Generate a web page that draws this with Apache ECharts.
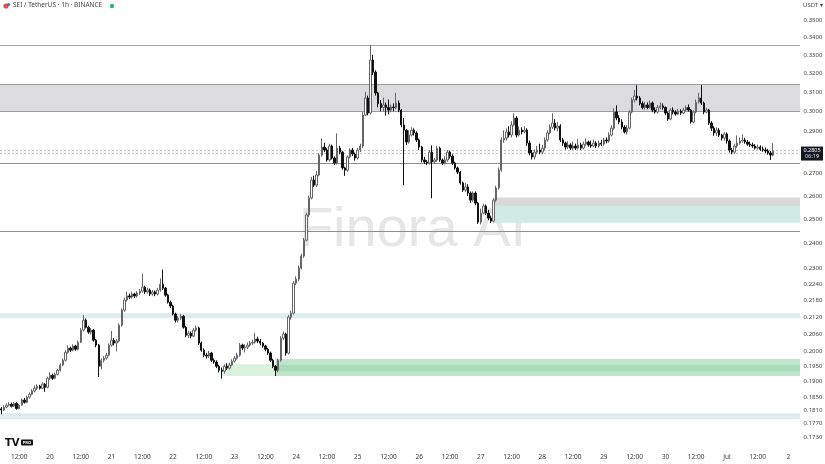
<!DOCTYPE html>
<html><head><meta charset="utf-8">
<script src="https://cdn.jsdelivr.net/npm/echarts@6/dist/echarts.min.js"></script>
<style>html,body{margin:0;padding:0;background:#fff}#c{width:825px;height:464px}</style>
</head><body><div id="c"></div>
<script>
// ---- data (SEI / TetherUS, 1h, BINANCE) ----
const startHourUTC = Date.UTC(2025, 5, 19, 5);
const hourSlots = 312;
const opens = [
.1815,.1811,.1820,.1826,.1829,.1823,.1832,.1816,.1826,.1842,
.1835,.1851,.1860,.1870,.1879,.1886,.1879,.1892,.1882,.1911,
.1921,.1911,.1924,.1937,.1954,.1970,.1997,.2011,.2004,.2018,
.2007,.2031,.2073,.2108,.2083,.2066,.2073,.2038,.2021,.1950,
.1970,.1977,.1987,.2021,.2038,.2028,.2035,.2090,.2144,.2181,
.2196,.2192,.2203,.2196,.2207,.2214,.2229,.2211,.2218,.2203,
.2211,.2203,.2218,.2240,.2225,.2199,.2173,.2159,.2130,.2108,
.2115,.2122,.2083,.2055,.2062,.2052,.2073,.2080,.2028,.2004,
.1987,.1984,.1994,.1970,.1964,.1950,.1937,.1934,.1950,.1944,
.1954,.1967,.1977,.1987,.2021,.2011,.2014,.2021,.2028,.2031,
.2042,.2035,.2028,.2018,.2007,.1994,.1970,.1950,.1937,.1970,
.2045,.2059,.1994,.2119,.2133,.2244,.2259,.2302,.2349,.2413,
.2518,.2591,.2671,.2648,.2694,.2786,.2824,.2810,.2763,.2829,
.2772,.2749,.2819,.2800,.2726,.2716,.2777,.2810,.2791,.2772,
.2810,.2829,.2981,.3068,.2991,.3271,.3205,.3094,.3039,.3019,
.3032,.3019,.3006,.3022,.3019,.3042,.3006,.2931,.2906,.2848,
.2882,.2906,.2892,.2858,.2824,.2763,.2754,.2749,.2800,.2754,
.2763,.2819,.2763,.2749,.2763,.2800,.2781,.2749,.2726,.2707,
.2658,.2626,.2640,.2613,.2582,.2613,.2569,.2488,.2526,.2556,
.2526,.2505,.2492,.2582,.2635,.2716,.2858,.2867,.2897,.2882,
.2931,.2966,.2882,.2906,.2897,.2906,.2843,.2796,.2777,.2800,
.2810,.2800,.2819,.2858,.2892,.2921,.2941,.2916,.2926,.2858,
.2843,.2824,.2834,.2819,.2829,.2819,.2834,.2819,.2838,.2848,
.2834,.2829,.2843,.2829,.2843,.2838,.2858,.2853,.2882,.2916,
.2996,.2966,.2946,.2921,.2897,.2916,.2996,.3058,.3078,.3068,
.3039,.3019,.3032,.3019,.3042,.3006,.2996,.3019,.3027,.3019,
.2991,.2961,.3006,.2996,.2986,.3001,.2991,.3006,.3019,.3006,
.2946,.2996,.3047,.3068,.3042,.2996,.3006,.2941,.2916,.2892,
.2906,.2882,.2867,.2887,.2853,.2810,.2800,.2829,.2843,.2853,
.2858,.2848,.2838,.2834,.2829,.2819,.2824,.2814,.2810,.2805,
.2796,.2786];
const closes = [
.1811,.1820,.1826,.1829,.1823,.1832,.1816,.1826,.1842,.1835,
.1851,.1860,.1870,.1879,.1886,.1879,.1892,.1882,.1911,.1921,
.1911,.1924,.1937,.1954,.1970,.1997,.2011,.2004,.2018,.2007,
.2031,.2073,.2108,.2083,.2066,.2073,.2038,.2021,.1950,.1970,
.1977,.1987,.2021,.2038,.2028,.2035,.2090,.2144,.2181,.2196,
.2192,.2203,.2196,.2207,.2214,.2229,.2211,.2218,.2203,.2211,
.2203,.2218,.2240,.2225,.2199,.2173,.2159,.2130,.2108,.2115,
.2122,.2083,.2055,.2062,.2052,.2073,.2080,.2028,.2004,.1987,
.1984,.1994,.1970,.1964,.1950,.1937,.1934,.1950,.1944,.1954,
.1967,.1977,.1987,.2021,.2011,.2014,.2021,.2028,.2031,.2042,
.2035,.2028,.2018,.2007,.1994,.1970,.1950,.1937,.1970,.2045,
.2059,.1994,.2119,.2133,.2244,.2259,.2302,.2349,.2413,.2518,
.2591,.2671,.2648,.2694,.2786,.2824,.2810,.2763,.2829,.2772,
.2749,.2819,.2800,.2726,.2716,.2777,.2810,.2791,.2772,.2810,
.2829,.2981,.3068,.2991,.3271,.3205,.3094,.3039,.3019,.3032,
.3019,.3006,.3022,.3019,.3042,.3006,.2931,.2906,.2848,.2882,
.2906,.2892,.2858,.2824,.2763,.2754,.2749,.2800,.2754,.2763,
.2819,.2763,.2749,.2763,.2800,.2781,.2749,.2726,.2707,.2658,
.2626,.2640,.2613,.2582,.2613,.2569,.2488,.2526,.2556,.2526,
.2505,.2492,.2582,.2635,.2716,.2858,.2867,.2897,.2882,.2931,
.2966,.2882,.2906,.2897,.2906,.2843,.2796,.2777,.2800,.2810,
.2800,.2819,.2858,.2892,.2921,.2941,.2916,.2926,.2858,.2843,
.2824,.2834,.2819,.2829,.2819,.2834,.2819,.2838,.2848,.2834,
.2829,.2843,.2829,.2843,.2838,.2858,.2853,.2882,.2916,.2996,
.2966,.2946,.2921,.2897,.2916,.2996,.3058,.3078,.3068,.3039,
.3019,.3032,.3019,.3042,.3006,.2996,.3019,.3027,.3019,.2991,
.2961,.3006,.2996,.2986,.3001,.2991,.3006,.3019,.3006,.2946,
.2996,.3047,.3068,.3042,.2996,.3006,.2941,.2916,.2892,.2906,
.2882,.2867,.2887,.2853,.2810,.2800,.2829,.2843,.2853,.2858,
.2848,.2838,.2834,.2829,.2819,.2824,.2814,.2810,.2805,.2796,
.2786,.2805];
const highs = [
.1820,.1826,.1832,.1835,.1834,.1836,.1835,.1830,.1847,.1849,
.1856,.1866,.1876,.1888,.1892,.1890,.1898,.1896,.1916,.1930,
.1926,.1929,.1942,.1960,.1976,.2004,.2020,.2016,.2024,.2022,
.2036,.2080,.2126,.2114,.2088,.2080,.2077,.2042,.2025,.1976,
.1984,.1995,.2027,.2070,.2045,.2042,.2096,.2150,.2190,.2212,
.2205,.2212,.2208,.2214,.2222,.2280,.2234,.2226,.2224,.2218,
.2216,.2226,.2262,.2296,.2230,.2204,.2179,.2164,.2135,.2122,
.2130,.2127,.2088,.2070,.2068,.2080,.2088,.2085,.2033,.2010,
.1995,.2001,.1998,.1976,.1970,.1955,.1946,.1956,.1960,.1962,
.1973,.1984,.1995,.2028,.2026,.2024,.2030,.2036,.2040,.2064,
.2050,.2042,.2032,.2022,.2012,.1999,.1975,.1954,.1976,.2052,
.2068,.2064,.2126,.2142,.2252,.2270,.2312,.2358,.2422,.2528,
.2602,.2685,.2690,.2712,.2795,.2865,.2845,.2818,.2840,.2836,
.2780,.2890,.2830,.2806,.2732,.2785,.2818,.2820,.2798,.2820,
.2840,.2996,.3100,.3080,.3355,.3300,.3215,.3100,.3058,.3070,
.3045,.3060,.3035,.3040,.3095,.3055,.3012,.2966,.2912,.2905,
.2920,.2915,.2900,.2865,.2830,.2778,.2762,.2810,.2832,.2772,
.2830,.2826,.2770,.2780,.2810,.2806,.2790,.2755,.2732,.2712,
.2664,.2658,.2652,.2620,.2620,.2620,.2575,.2545,.2566,.2563,
.2540,.2515,.2590,.2645,.2728,.2870,.2905,.2915,.2925,.2950,
.2990,.2975,.2925,.2920,.2925,.2915,.2855,.2810,.2812,.2830,
.2840,.2835,.2870,.2905,.2935,.2990,.2960,.2945,.2935,.2868,
.2850,.2852,.2842,.2850,.2840,.2862,.2845,.2850,.2865,.2855,
.2855,.2860,.2852,.2855,.2858,.2868,.2870,.2895,.2930,.3015,
.3030,.2980,.2960,.2930,.2930,.3005,.3070,.3110,.3135,.3078,
.3050,.3048,.3045,.3055,.3050,.3020,.3032,.3045,.3040,.3025,
.2998,.3015,.3020,.3005,.3012,.3010,.3018,.3030,.3035,.3012,
.3005,.3060,.3095,.3136,.3050,.3018,.3012,.2950,.2925,.2920,
.2915,.2888,.2895,.2895,.2860,.2820,.2840,.2880,.2870,.2885,
.2868,.2858,.2850,.2845,.2838,.2836,.2832,.2826,.2822,.2815,
.2805,.2843];
const lows = [
.1798,.1808,.1817,.1822,.1819,.1820,.1812,.1813,.1824,.1831,
.1832,.1846,.1857,.1866,.1874,.1875,.1876,.1868,.1879,.1906,
.1906,.1908,.1920,.1933,.1950,.1966,.1992,.1998,.2000,.2002,
.2003,.2028,.2068,.2079,.2060,.2058,.2033,.2014,.1915,.1940,
.1963,.1972,.1983,.2016,.2020,.2000,.2030,.2085,.2138,.2175,
.2184,.2186,.2188,.2190,.2200,.2208,.2204,.2205,.2196,.2197,
.2195,.2198,.2212,.2218,.2193,.2168,.2152,.2125,.2100,.2100,
.2108,.2078,.2048,.2046,.2045,.2048,.2068,.2022,.1998,.1980,
.1976,.1978,.1964,.1958,.1944,.1930,.1910,.1926,.1938,.1940,
.1950,.1962,.1972,.1982,.2004,.1996,.2008,.2016,.2022,.2026,
.2028,.2020,.2012,.2000,.1988,.1964,.1944,.1918,.1930,.1965,
.2038,.1985,.1990,.2110,.2128,.2236,.2252,.2296,.2342,.2408,
.2510,.2585,.2640,.2640,.2688,.2778,.2800,.2755,.2756,.2765,
.2740,.2742,.2790,.2718,.2690,.2708,.2770,.2782,.2760,.2765,
.2800,.2819,.2975,.2980,.2985,.3190,.3080,.3020,.3000,.3000,
.2978,.2985,.2995,.3000,.3010,.2995,.2920,.2648,.2835,.2840,
.2875,.2880,.2848,.2810,.2752,.2745,.2740,.2742,.2590,.2745,
.2755,.2755,.2740,.2742,.2755,.2770,.2740,.2718,.2698,.2650,
.2618,.2618,.2600,.2570,.2575,.2560,.2480,.2478,.2520,.2518,
.2496,.2484,.2486,.2575,.2628,.2708,.2845,.2855,.2870,.2870,
.2925,.2870,.2875,.2885,.2890,.2830,.2785,.2765,.2765,.2790,
.2790,.2790,.2810,.2850,.2885,.2912,.2905,.2900,.2848,.2830,
.2812,.2815,.2810,.2810,.2810,.2812,.2810,.2812,.2830,.2825,
.2820,.2822,.2820,.2822,.2828,.2830,.2842,.2845,.2875,.2908,
.2955,.2935,.2910,.2890,.2885,.2910,.2990,.3045,.3055,.3030,
.3010,.3008,.3010,.3012,.2995,.2988,.2988,.3010,.3008,.2980,
.2952,.2955,.2985,.2978,.2980,.2982,.2985,.3000,.2998,.2938,
.2940,.2990,.3040,.3032,.2985,.2990,.2932,.2902,.2878,.2878,
.2872,.2855,.2855,.2840,.2798,.2790,.2792,.2820,.2835,.2845,
.2840,.2830,.2825,.2820,.2812,.2812,.2806,.2802,.2796,.2788,
.2763,.2780];
const priceTicks = [0.35,0.34,0.33,0.32,0.31,0.30,0.29,0.27,0.26,0.25,0.24,0.23,0.224,0.218,0.212,0.206,0.20,0.195,0.19,0.185,0.181,0.177,0.173];
const solidLevels = [0.3355, 0.2749, 0.2450];
const resistanceZone = [0.3141, 0.3001];
const dashedLevels = [0.2810, 0.2796];
const blueBands = [[0.2133, 0.2115], [0.1801, 0.1784]];
const demandStart = 192, demandGray = [0.2593, 0.2556], demandTeal = [0.2556, 0.2485];
const greenLightStart = 86, greenLight = [0.1957, 0.1918];
const greenStart = 107, green = [0.1974, 0.1918], greenCore = [0.1954, 0.1934];
const countdown = '06:19';

// ---- build ----
const categories = [];
for (let i = 0; i < hourSlots; i++) {
  const d = new Date(startHourUTC + i * 3600000);
  categories.push({day: d.getUTCDate(), month: d.getUTCMonth(), hour: d.getUTCHours()});
}
const catNames = categories.map(c => (c.month + 1) + '-' + c.day + ' ' + c.hour);
const candleData = opens.map((o, i) => [o, closes[i], lows[i], highs[i]]);

const chart = echarts.init(document.getElementById('c'), null, {renderer: 'canvas'});
const FONT = '"Noto Sans", "Liberation Sans", sans-serif';
const hLine = (v, color, type) => ({yAxis: v, lineStyle: {color: color, width: 1, type: type || 'solid'}});
const area = (p, c, color) => p == null
  ? [{yAxis: c[0], itemStyle: {color: color}}, {yAxis: c[1]}]
  : [{xAxis: p, yAxis: c[0], itemStyle: {color: color}}, {yAxis: c[1]}];

chart.setOption({
  animation: false,
  backgroundColor: '#ffffff',
  grid: {left: 0, right: 25, top: 0, bottom: 14, containLabel: false},
  xAxis: {
    type: 'category', data: catNames, boundaryGap: true,
    axisLine: {show: false}, axisTick: {show: false}, splitLine: {show: false},
    axisLabel: {
      color: '#3a3a3a', fontSize: 6.5, fontFamily: FONT, margin: 4,
      interval: (idx) => categories[idx].hour === 0 || categories[idx].hour === 12,
      formatter: (v, idx) => {
        const c = categories[idx];
        if (c.hour === 12) return '12:00';
        if (c.day === 1) return 'Jul';
        return String(c.day);
      }
    }
  },
  yAxis: {
    type: 'log', logBase: 10, min: 0.16929, max: 0.36203, position: 'right',
    axisLine: {show: false}, axisTick: {show: false}, splitLine: {show: false},
    axisLabel: {show: false}
  },
  series: [
    {
      type: 'line', data: [], z: 1, silent: true,
      markArea: {
        silent: true,
        data: [
          area(null, resistanceZone, '#dcdcde'),
          area(null, blueBands[0], '#dcecef'),
          area(null, blueBands[1], '#dcecef'),
          area(demandStart, demandGray, '#d9d9da'),
          area(demandStart, demandTeal, '#cfebe4'),
          area(greenLightStart, greenLight, '#d9f1dd'),
          area(greenStart, green, '#bfe6cb'),
          area(greenStart, greenCore, '#a9dcba')
        ]
      },
      markLine: {
        silent: true, precision: 6, symbol: ['none', 'none'], label: {show: false},
        data: [
          hLine(solidLevels[0], '#a3a3a3'),
          hLine(resistanceZone[0], '#9c9c9c'),
          hLine(resistanceZone[1], '#9c9c9c'),
          hLine(solidLevels[1], '#8e8e8e'),
          hLine(solidLevels[2], '#8e8e8e'),
          hLine(dashedLevels[0], '#c4c4c4', [2, 2]),
          hLine(dashedLevels[1], '#c4c4c4', [2, 2])
        ]
      }
    },
    {
      type: 'candlestick', data: candleData, z: 5, barWidth: '75%',
      itemStyle: {color: '#ffffff', color0: '#111111', borderColor: '#666666', borderColor0: '#111111', borderWidth: 1}
    }
  ],
  graphic: [
    {type: 'text', z: 0, left: 'center', top: 203, style: {text: 'Finora AI', fontSize: 56, fontFamily: '"Liberation Sans", Arial, sans-serif', fill: '#e6e6e6'}, silent: true},
    {type: 'circle', shape: {cx: 6, cy: 6, r: 2.6}, style: {fill: '#d9534f'}},
    {type: 'circle', shape: {cx: 8.5, cy: 4.5, r: 1.6}, style: {fill: '#3a6fd8'}},
    {type: 'text', x: 13, y: 2, style: {text: 'SEI / TetherUS · 1h · BINANCE', fontSize: 6.5, fontFamily: FONT, fill: '#444'}},
    {type: 'circle', shape: {cx: 112, cy: 6, r: 2.2}, style: {fill: '#2bb673'}},
    {type: 'text', x: 803, y: 2, style: {text: 'USDT ▾', fontSize: 6, fontFamily: FONT, fill: '#444'}},
    {type: 'text', x: 5, y: 438, style: {text: 'TV', fontSize: 10, fontWeight: 'bold', fontFamily: '"DejaVu Sans", sans-serif', fill: '#111'}},
    {type: 'rect', shape: {x: 21, y: 439.5, width: 12, height: 6, r: 1}, style: {fill: '#111'}},
    {type: 'text', x: 27, y: 442.5, style: {text: 'PRO', fontSize: 4, fontWeight: 'bold', fontFamily: FONT, fill: '#fff', align: 'center', verticalAlign: 'middle'}}
  ]
});

// price-scale labels and last-price tag, placed through the axis scale
const extra = [];
priceTicks.forEach(v => {
  const py = chart.convertToPixel({yAxisIndex: 0}, v);
  extra.push({type: 'text', x: 813, y: py, style: {text: v.toFixed(4), fontSize: 6, fontFamily: FONT, fill: '#444', align: 'center', verticalAlign: 'middle'}});
});
const last = closes[closes.length - 1];
const ly = chart.convertToPixel({yAxisIndex: 0}, last);
extra.push({type: 'rect', shape: {x: 801, y: ly - 4.5, width: 22, height: 14}, style: {fill: '#131722'}});
extra.push({type: 'text', x: 812, y: ly - 0.5, style: {text: last.toFixed(4), fontSize: 5.5, fontFamily: FONT, fill: '#fff', align: 'center', verticalAlign: 'middle'}});
extra.push({type: 'text', x: 812, y: ly + 5.5, style: {text: countdown, fontSize: 5.5, fontFamily: FONT, fill: '#ddd', align: 'center', verticalAlign: 'middle'}});
chart.setOption({graphic: extra.map((e, i) => Object.assign({id: 'extra' + i}, e))});
</script>
</body></html>
